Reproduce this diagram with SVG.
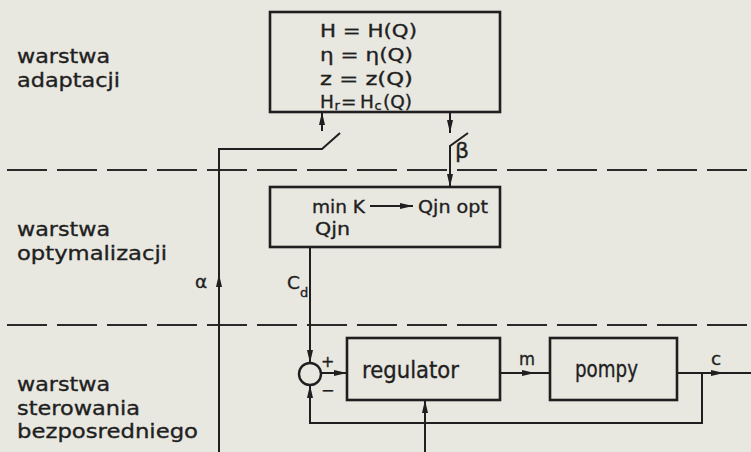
<svg xmlns="http://www.w3.org/2000/svg" width="751" height="452" viewBox="0 0 751 452">
<defs>
<marker id="ah" markerUnits="userSpaceOnUse" markerWidth="13" markerHeight="6" refX="13" refY="3" orient="auto"><path d="M0,0 L13,3 L0,6 z" fill="#1f1f1f"/></marker>
<style>
.box{fill:none;stroke:#1f1f1f;stroke-width:2.6}
.ln{fill:none;stroke:#1f1f1f;stroke-width:2}
.dash{fill:none;stroke:#2a2a2a;stroke-width:2;stroke-dasharray:40 10}
.t{font-family:"DejaVu Sans","Noto Sans",sans-serif;fill:#1f1f1f;stroke:#1f1f1f;stroke-width:0.35;font-size:18.5px}
.lay{font-family:"DejaVu Sans","Noto Sans",sans-serif;fill:#1f1f1f;stroke:#1f1f1f;stroke-width:0.35;font-size:20px}
.s{font-size:13px}
</style>
</defs>
<rect width="751" height="452" fill="#e8e7e0"/>

<g id="layer-separators">
<line class="dash" x1="7" y1="170" x2="751" y2="170"/>
<line class="dash" x1="7" y1="325" x2="751" y2="325"/>
</g>

<g id="layer-labels">
<text class="lay" x="17" y="63" textLength="93" lengthAdjust="spacingAndGlyphs">warstwa</text>
<text class="lay" x="17" y="87" textLength="103" lengthAdjust="spacingAndGlyphs">adaptacji</text>
<text class="lay" x="17" y="236" textLength="93" lengthAdjust="spacingAndGlyphs">warstwa</text>
<text class="lay" x="17" y="259.5" textLength="150" lengthAdjust="spacingAndGlyphs">optymalizacji</text>
<text class="lay" x="17" y="391" textLength="93" lengthAdjust="spacingAndGlyphs">warstwa</text>
<text class="lay" x="17" y="414.5" textLength="123" lengthAdjust="spacingAndGlyphs">sterowania</text>
<text class="lay" x="17" y="438" textLength="181" lengthAdjust="spacingAndGlyphs">bezposredniego</text>
</g>

<g id="adaptation">
<rect class="box" x="270" y="12" width="230" height="100"/>
<text class="t" x="320" y="37" textLength="97" lengthAdjust="spacingAndGlyphs">H = H(Q)</text>
<text class="t" x="320" y="61" textLength="93" lengthAdjust="spacingAndGlyphs">η = η(Q)</text>
<text class="t" x="320" y="85" textLength="93" lengthAdjust="spacingAndGlyphs">z = z(Q)</text>
<text class="t"><tspan x="320" y="108">H</tspan><tspan class="s" x="334.5" y="110">r</tspan><tspan x="341" y="108">=</tspan><tspan x="360" y="108">H</tspan><tspan class="s" x="374.5" y="110">c</tspan><tspan x="383" y="108">(Q)</tspan></text>
</g>

<g id="optimization">
<rect class="box" x="270" y="187" width="230" height="60"/>
<text class="t" x="312" y="213" textLength="53" lengthAdjust="spacingAndGlyphs">min K</text>
<text class="t" x="418" y="213" textLength="70" lengthAdjust="spacingAndGlyphs">Qjn opt</text>
<line class="ln" x1="370" y1="206" x2="413" y2="206" marker-end="url(#ah)"/>
<text class="t" x="315" y="235" textLength="35" lengthAdjust="spacingAndGlyphs">Qjn</text>
</g>

<g id="summing-junction">
<circle cx="310" cy="374" r="11" fill="none" stroke="#1f1f1f" stroke-width="2.4"/>
<text class="t" style="font-size:16px" x="321" y="367">+</text>
<text class="t" style="font-size:16px" x="321" y="396">−</text>
</g>

<g id="regulator">
<rect class="box" x="347" y="338" width="153" height="62"/>
<text class="t" style="font-size:23px" x="362" y="378" textLength="97" lengthAdjust="spacingAndGlyphs">regulator</text>
</g>

<g id="pompy">
<rect class="box" x="550" y="338" width="127" height="62"/>
<text class="t" style="font-size:23px" x="575" y="377" textLength="63" lengthAdjust="spacingAndGlyphs">pompy</text>
</g>

<g id="connectors">
<path class="ln" d="M219,452 V149 H322 L340,133"/>
<path class="ln" d="M219,290 V274" marker-end="url(#ah)"/>
<path class="ln" d="M322,131 V112" marker-end="url(#ah)"/>
<path class="ln" d="M450,112 V133" marker-end="url(#ah)"/>
<path class="ln" d="M468,133 L450,146 V187" marker-end="url(#ah)"/>
<path class="ln" d="M310,247 V363" marker-end="url(#ah)"/>
<path class="ln" d="M321,373 H347" marker-end="url(#ah)"/>
<path class="ln" d="M500,373 H550"/>
<path class="ln" d="M518,373 H535" marker-end="url(#ah)"/>
<path class="ln" d="M677,373 H751"/>
<path class="ln" d="M708,373 H724" marker-end="url(#ah)"/>
<path class="ln" d="M702,373 V423 H310 V385" marker-end="url(#ah)"/>
<path class="ln" d="M425,452 V400" marker-end="url(#ah)"/>
</g>

<g id="connector-labels">
<text class="t" x="195" y="288">α</text>
<text class="t" x="287" y="289">C<tspan class="s" dy="8">d</tspan></text>
<text class="t" style="font-size:22px" x="455" y="158">β</text>
<text class="t" style="font-size:18px" x="519" y="365" textLength="16" lengthAdjust="spacingAndGlyphs">m</text>
<text class="t" x="711" y="365">c</text>
</g>
</svg>
